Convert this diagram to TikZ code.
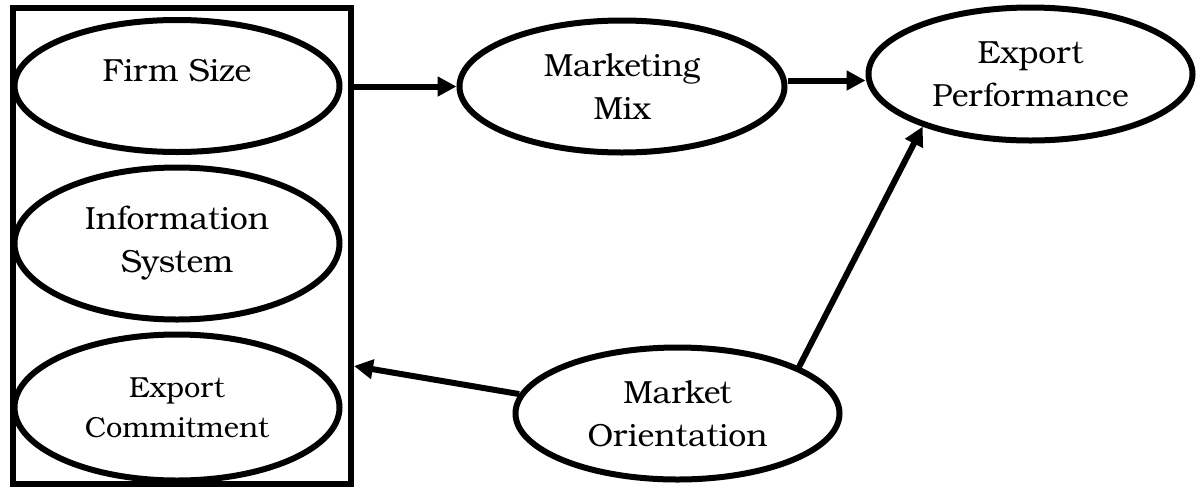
\documentclass[tikz,border=0pt]{standalone}
\usepackage{fontspec}
\setmainfont{TeX Gyre Bonum}
\usetikzlibrary{shapes.geometric,arrows.meta,calc}
\begin{document}
\begin{tikzpicture}[x=1pt,y=-1pt,
  construct/.style={ellipse, draw, line width=6pt, inner sep=0pt,
    minimum width=325pt, minimum height=132pt, align=center,
    font=\fontsize{32}{43}\selectfont},
  groupbox/.style={rectangle, draw, line width=6pt, inner sep=0pt,
    minimum width=338.5pt, minimum height=476pt},
  link/.style={line width=6pt, -{Triangle[length=19pt,width=19pt]}},
]
\useasboundingbox (0,0) rectangle (1197,491);

% firm-level antecedents grouped in one box
\node[groupbox] (grp) at (181.75,245.5) {};
\node[construct, text depth=31pt] (fs) at (177,86) {Firm Size};
\node[construct, minimum height=152pt] (is) at (177,243.5) {Information\\System};
\node[construct, minimum height=146pt, font=\fontsize{29}{40}\selectfont] (ec) at (177,407.5) {Export\\Commitment};

% remaining constructs
\node[construct] (mm) at (622,86.5) {Marketing\\Mix};
\node[construct, minimum width=324pt, minimum height=133pt] (ep) at (1030.5,74) {Export\\Performance};
\node[construct, minimum width=324pt] (mo) at (677.5,413.5) {Market\\Orientation};

% paths
\draw[link] (grp.east |- mm.west) -- (mm.west);
\coordinate (mmout) at ($(mm.east)+(0,-6)$);
\draw[link] (mmout) -- (mmout -| ep.west);
\draw[link] (mo.21) -- (ep.206);
\draw[link] (mo.173) -- ($(grp.south east)!0.25!(grp.north east)$);
\end{tikzpicture}
\end{document}
